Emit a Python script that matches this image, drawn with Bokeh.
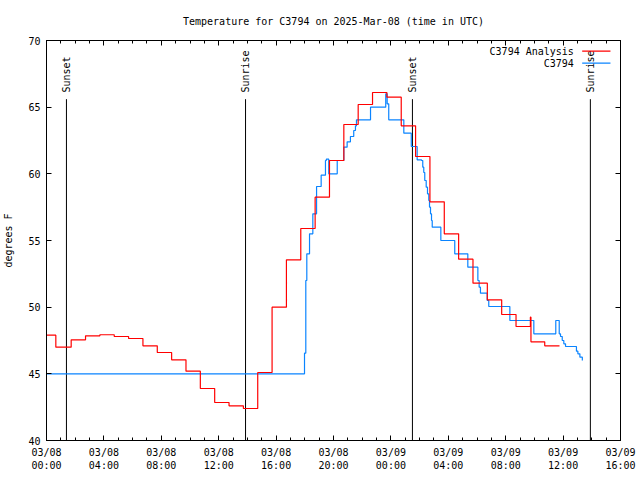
import math
from bokeh.plotting import figure
from bokeh.models import Range1d, FixedTicker, LinearAxis, Label, Arrow
from bokeh.core.properties import value
from bokeh.embed import file_html
from bokeh.resources import INLINE

FONT = "DejaVu Sans Mono"

title_text = "Temperature for C3794 on 2025-Mar-08 (time in UTC)"
y_label = "degrees F"
series_names = ["C3794 Analysis", "C3794"]

# hours since 2025-03-08 00:00 UTC
x_ticks = [0, 4, 8, 12, 16, 20, 24, 28, 32, 36, 40]
x_tick_labels = ["03/08\n00:00", "03/08\n04:00", "03/08\n08:00", "03/08\n12:00", "03/08\n16:00",
                 "03/08\n20:00", "03/09\n00:00", "03/09\n04:00", "03/09\n08:00", "03/09\n12:00",
                 "03/09\n16:00"]
x_minor = list(range(0, 41))
y_ticks = [40, 45, 50, 55, 60, 65, 70]

# Analysis (red), stepped
red_t = [0.0, 0.65, 1.72, 2.72, 3.72, 4.72, 5.72, 6.72, 7.72, 8.72, 9.72, 10.72, 11.72, 12.72,
         13.72, 14.72, 15.72, 16.72, 17.72, 18.72, 19.72, 20.72, 21.72, 22.72, 23.72, 24.72,
         25.72, 26.72, 27.72, 28.72, 29.72, 30.72, 31.72, 32.72, 33.72, 33.76, 34.72, 35.75]
red_v = [47.9, 47.0, 47.55, 47.85, 47.93, 47.8, 47.65, 47.1, 46.6, 46.05, 45.2, 43.9, 42.85, 42.6,
         42.4, 45.1, 50.0, 53.55, 55.9, 58.25, 61.0, 63.7, 65.2, 66.1, 65.75, 63.6,
         61.3, 57.9, 55.5, 53.6, 51.8, 50.55, 49.45, 48.55, 49.25, 47.4, 47.1, 47.1]

# Observations (blue), stepped
blue_t = [0.0, 17.96, 17.98, 18.07, 18.14, 18.33, 18.56, 18.82, 19.14, 19.44, 19.50, 19.67,
          20.14, 20.26, 20.68, 20.72, 20.95, 21.18, 21.41, 21.53, 21.60, 22.56, 22.58, 23.53,
          23.64, 23.74, 23.85, 24.83, 24.90, 25.32, 25.42, 25.76, 25.83, 26.13, 26.22, 26.29,
          26.36, 26.46, 26.55, 26.64, 26.69, 26.76, 26.83, 26.88, 27.41, 27.48, 28.38, 28.45,
          29.27, 29.36, 29.97, 30.06, 30.15, 30.24, 30.64, 30.71, 30.82, 32.22, 32.29, 33.87,
          33.96, 35.40, 35.49, 35.63, 35.73, 35.82, 35.94, 36.05, 36.17, 36.82, 36.93, 37.03,
          37.17, 37.34]
blue_v = [45.0, 45.0, 46.55, 52.0, 54.0, 55.5, 57.0, 59.05, 59.9, 61.0, 61.1, 60.0,
          60.0, 61.0, 61.0, 62.0, 62.4, 62.8, 63.25, 63.6, 64.05, 64.05, 65.0, 65.0,
          66.0, 65.25, 64.05, 64.05, 63.05, 63.05, 62.05, 62.05, 61.05, 61.0, 60.5, 60.1,
          59.5, 59.0, 58.5, 58.0, 57.5, 57.0, 56.5, 56.0, 56.0, 55.0, 55.0, 54.0,
          54.0, 53.0, 53.0, 52.0, 51.5, 51.05, 51.05, 50.5, 50.05, 50.05, 49.0, 49.0,
          48.0, 48.0, 49.0, 49.0, 48.0, 47.8, 47.5, 47.25, 47.05, 47.05, 46.7, 46.5,
          46.25, 46.0]

sun_t = [1.39, 13.87, 25.5, 37.9]
sun_labels = ["Sunset", "Sunrise", "Sunset", "Sunrise"]

RED = "#ff0000"
BLUE = "#0a84ff"

p = figure(width=640, height=480, output_backend="svg", toolbar_location=None,
           x_range=Range1d(0, 40), y_range=Range1d(40, 70),
           min_border_left=46, min_border_right=20, min_border_top=40, min_border_bottom=40,
           title=title_text)
p.title.align = "center"
p.title.text_font = FONT
p.title.text_font_size = "10px"
p.title.text_font_style = "normal"
p.title.text_color = "black"
p.title.standoff = 27
p.xgrid.visible = False
p.ygrid.visible = False
p.outline_line_color = "black"
p.outline_line_width = 1
p.background_fill_color = "white"
p.border_fill_color = "white"

def style_axis(ax):
    ax.axis_line_color = "black"
    ax.major_tick_in = 5
    ax.major_tick_out = 0
    ax.minor_tick_in = 3
    ax.minor_tick_out = 0
    ax.major_tick_line_color = "black"
    ax.minor_tick_line_color = "black"
    ax.major_label_text_font = FONT
    ax.major_label_text_font_size = "10px"
    ax.major_label_text_color = "black"
    ax.axis_label_text_font = FONT
    ax.axis_label_text_font_size = "10px"
    ax.axis_label_text_font_style = "normal"
    ax.axis_label_text_color = "black"

xax = p.xaxis[0]
xax.ticker = FixedTicker(ticks=x_ticks, minor_ticks=x_minor)
xax.major_label_overrides = {t: l for t, l in zip(x_ticks, x_tick_labels)}
style_axis(xax)
xax.major_label_standoff = 6

yax = p.yaxis[0]
yax.ticker = FixedTicker(ticks=y_ticks, minor_ticks=[])
yax.axis_label = y_label
style_axis(yax)
yax.major_label_standoff = 6
yax.axis_label_standoff = 11

top = LinearAxis(ticker=FixedTicker(ticks=x_ticks, minor_ticks=x_minor),
                 major_label_overrides={t: "" for t in x_ticks})
style_axis(top)
top.major_label_standoff = 0
p.add_layout(top, "above")

right = LinearAxis(ticker=FixedTicker(ticks=y_ticks, minor_ticks=[]),
                   major_label_overrides={t: "" for t in y_ticks})
style_axis(right)
right.major_label_standoff = 0
p.add_layout(right, "right")

# Sunrise / sunset markers
p.segment(x0=sun_t, y0=[40] * len(sun_t), x1=sun_t, y1=[65.6] * len(sun_t),
          line_color="black", line_width=1)
p.text(x=sun_t, y=[66.1] * len(sun_t), text=sun_labels, angle=math.pi / 2,
       text_font=value(FONT), text_font_size="10px", text_align="left",
       text_baseline="middle", text_color="black")

# Data series
p.step(blue_t, blue_v, mode="after", line_color=BLUE, line_width=1.2)
p.step(red_t, red_v, mode="after", line_color=RED, line_width=1.2)

# Legend (gnuplot style: text then sample)
leg_y = [69.21, 68.31]
for name, yy, col in zip(series_names, leg_y, [RED, BLUE]):
    p.add_layout(Label(x=36.75, y=yy, text=name, text_align="right", text_baseline="middle",
                       text_font=FONT, text_font_size="10px", text_color="black"))
    p.add_layout(Arrow(x_start=37.33, y_start=yy, x_end=39.3, y_end=yy, start=None, end=None,
                       line_color=col, line_width=1.2))

open("out.html", "w").write(file_html(p, INLINE))
